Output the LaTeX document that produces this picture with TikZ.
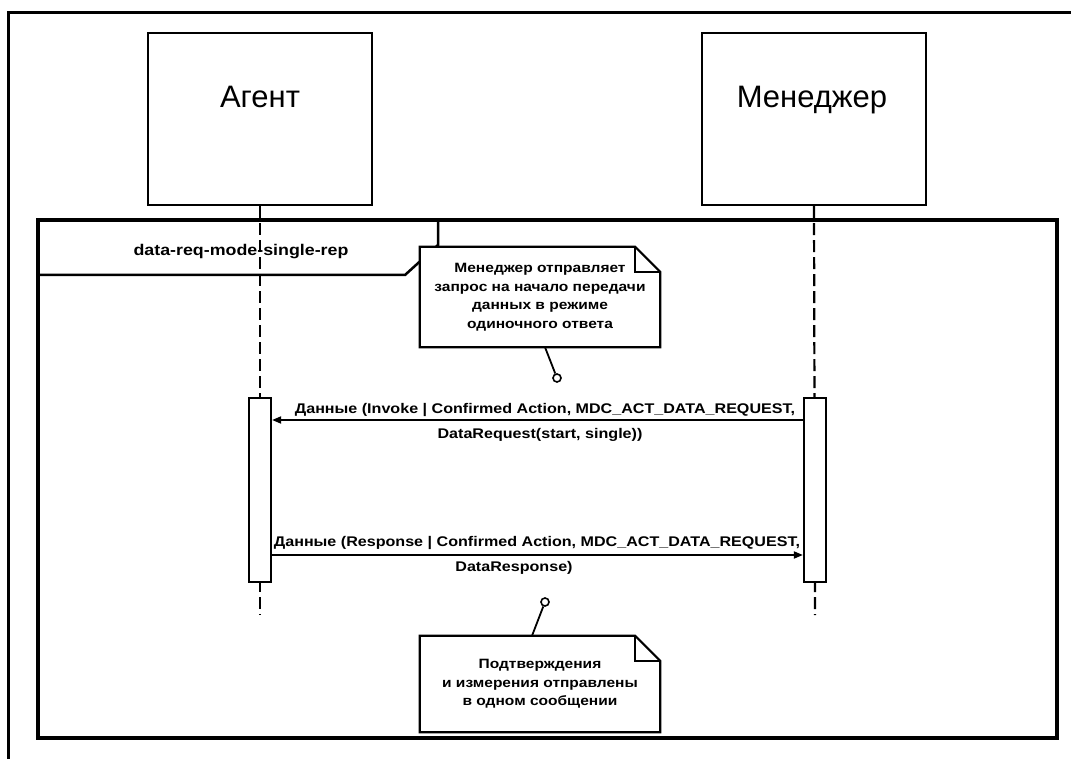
\documentclass[tikz,border=0pt]{standalone}
\usepackage{fontspec}
\setmainfont{Liberation Sans}
\newfontfamily\widesans{Liberation Sans}[FakeStretch=1.15]
\usetikzlibrary{arrows.meta}
\begin{document}
\begin{tikzpicture}[x=1pt,y=-1pt,
  actorbox/.style={draw,line width=2.2pt,minimum width=224pt,minimum height=172pt},
  actorname/.style={anchor=base,inner sep=0pt,font=\fontsize{31}{34}\selectfont},
  lifeline/.style={line width=2.2pt,dash pattern=on 12pt off 5pt},
  actbar/.style={draw,fill=white,line width=2.2pt,minimum width=22pt,minimum height=184pt,inner sep=0pt},
  msg/.style={line width=1.8pt,-{Triangle[length=9pt,width=7pt]}},
  msglabel/.style={font=\widesans\bfseries\fontsize{14}{16}\selectfont},
  notebody/.style={fill=white,minimum width=240pt,align=center,inner sep=0pt,font=\widesans\bfseries\fontsize{13.5}{18.5}\selectfont},
  noteline/.style={line width=2.2pt,line join=miter},
  pin/.style={draw,circle,line width=1.6pt,minimum size=8pt,inner sep=0pt,fill=white}]
\useasboundingbox (0,0) rectangle (1071,759);

% sheet border (left and top edges)
\draw[line width=3pt] (8,759) -- (8,13) -- (1071,13);

% actors
\node[actorbox] (agent) at (260,119) {};
\node[actorname] (agentname) at (260,108) {Агент};
\node[actorbox] (mgr) at (814,119) {};
\node[actorname] (mgrname) at (812,108) {Менеджер};

% lifeline ends
\coordinate (agentend) at (260,615);
\coordinate (mgrend) at (815,615);

% combined fragment frame
\node[draw,line width=4pt,minimum width=1019pt,minimum height=518pt,inner sep=0pt] (frame) at (547.5,479) {};
\draw[line width=2.5pt] (frame.north west |- 0,275) -- (405,275) -- (438,245) -- (438,220);
\node[font=\widesans\bfseries\fontsize{15.5}{17}\selectfont] (fraglabel) at (241,252) {data-req-mode-single-rep};

% lifelines
\draw[lifeline] (agent.south) -- (agentend);
\draw[lifeline] (mgr.south) -- (mgrend);

% activation bars
\node[actbar] (abar) at (260,490) {};
\node[actbar] (mbar) at (815,490) {};

% messages
\draw[msg] (mbar.west |- 0,420) -- (abar.east |- 0,420);
\node[msglabel,anchor=base] (m1a) at (545,413) {Данные (Invoke | Confirmed Action, MDC\_ACT\_DATA\_REQUEST,};
\node[msglabel,anchor=base] (m1b) at (540,438) {DataRequest(start, single))};

\draw[msg] (abar.east |- 0,555) -- (mbar.west |- 0,555);
\node[msglabel,anchor=base] (m2a) at (537,546) {Данные (Response | Confirmed Action, MDC\_ACT\_DATA\_REQUEST,};
\node[msglabel,anchor=base] (m2b) at (514,571) {DataResponse)};

% upper note
\node[notebody,minimum height=100pt] (note1) at (540,297) {Менеджер отправляет\\запрос на начало передачи\\данных в режиме\\одиночного ответа};
\draw[noteline] (note1.north west) -- ([xshift=-25pt]note1.north east) -- ([yshift=-25pt]note1.north east) -- (note1.south east) -- (note1.south west) -- cycle;
\draw[line width=1.6pt] ([xshift=-25pt]note1.north east) -- ([xshift=-25pt,yshift=-25pt]note1.north east) -- ([yshift=-25pt]note1.north east);
\node[pin] (pin1) at (557,378) {};
\draw[line width=1.8pt] ([xshift=5pt]note1.south) -- (pin1);

% lower note
\node[notebody,minimum height=96pt] (note2) at (540,684) {Подтверждения\\и измерения отправлены\\в одном сообщении};
\draw[noteline] (note2.north west) -- ([xshift=-25pt]note2.north east) -- ([yshift=-25pt]note2.north east) -- (note2.south east) -- (note2.south west) -- cycle;
\draw[line width=1.6pt] ([xshift=-25pt]note2.north east) -- ([xshift=-25pt,yshift=-25pt]note2.north east) -- ([yshift=-25pt]note2.north east);
\node[pin] (pin2) at (545,602) {};
\draw[line width=1.8pt] ([xshift=-8pt]note2.north) -- (pin2);
\end{tikzpicture}
\end{document}
